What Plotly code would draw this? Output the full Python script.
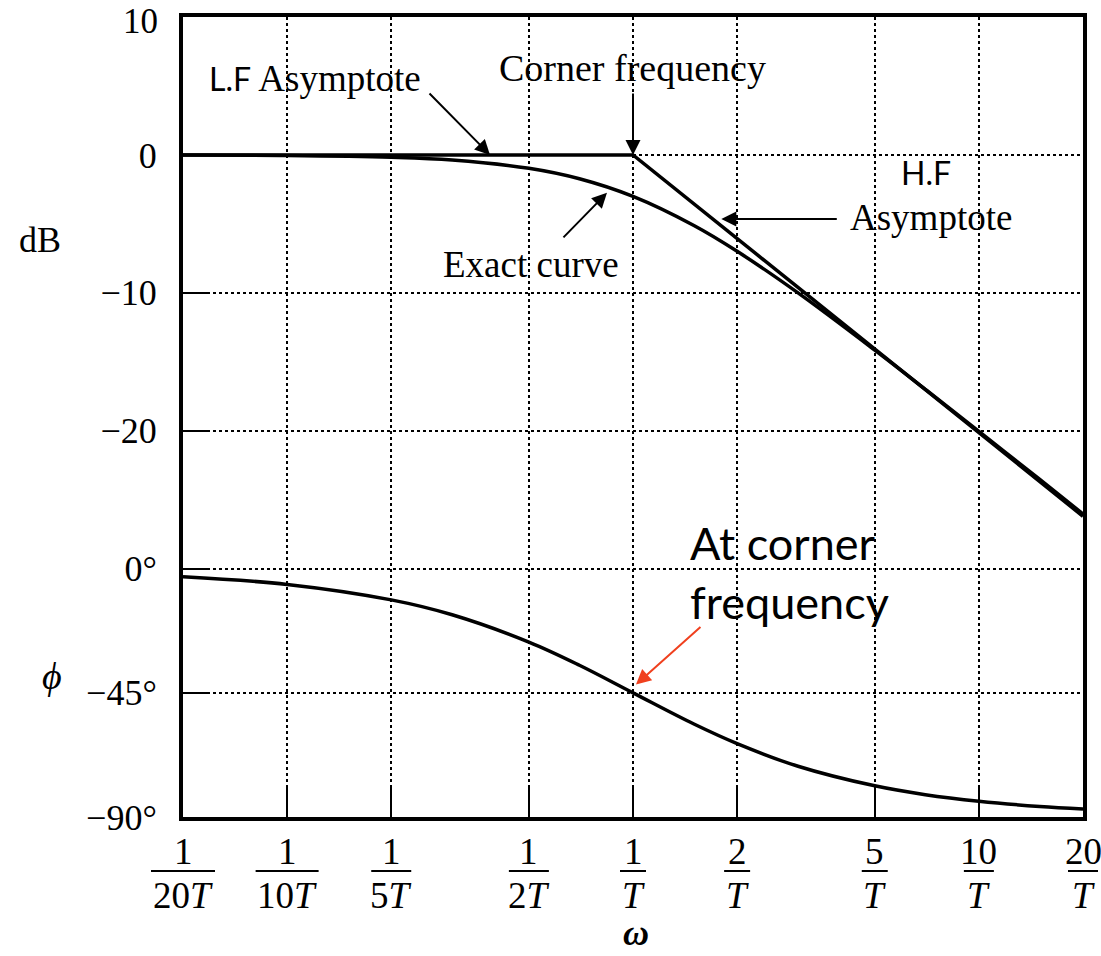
import math
import plotly.graph_objects as go

# ---------------- data ----------------
omega = [0.05, 0.1, 0.2, 0.3, 0.5, 0.7, 1.0, 1.5, 2.0, 3.0, 5.0, 7.0, 10.0, 15.0, 20.0]
exact_db = [-0.01, -0.04, -0.17, -0.37, -0.97, -1.73, -3.01, -5.12, -6.99, -10.0,
            -14.15, -16.99, -20.04, -23.53, -26.03]
phase_deg = [-2.9, -5.7, -11.3, -16.7, -26.6, -35.0, -45.0, -56.3, -63.4, -71.6,
             -78.7, -81.9, -84.3, -86.2, -87.1]
asym_omega = [0.05, 1.0, 20.0]
asym_db = [0.0, 0.0, -26.2]

tick_omega = [0.05, 0.1, 0.2, 0.5, 1, 2, 5, 10, 20]
tick_num = ["1", "1", "1", "1", "1", "2", "5", "10", "20"]
tick_den = ["20<i>T</i>", "10<i>T</i>", "5<i>T</i>", "2<i>T</i>", "<i>T</i>",
            "<i>T</i>", "<i>T</i>", "<i>T</i>", "<i>T</i>"]
tick_den_width = [64, 63, 40, 40, 26, 26, 26, 30, 30]  # fraction bar widths, px

db_ticks = [10, 0, -10, -20]
db_labels = ["10", "0", "\u221210", "\u221220"]
phase_ticks = [0, -45, -90]
phase_labels = ["0\u00b0", "\u221245\u00b0", "\u221290\u00b0"]

# phase drawn on the same vertical scale: 0 deg -> -30, -90 deg -> -48
PH_OFF = -30.0
PH_SCALE = 1.0 / 5.0
def ph(v):
    return PH_OFF + v * PH_SCALE

SERIF = "Liberation Serif"
SANS = "Lato"

fig = go.Figure()
fig.add_trace(go.Scatter(x=asym_omega, y=asym_db, mode="lines",
                         line=dict(color="black", width=3.5), hoverinfo="skip"))
fig.add_trace(go.Scatter(x=omega, y=exact_db, mode="lines",
                         line=dict(color="black", width=3.5, shape="spline"), hoverinfo="skip"))
fig.add_trace(go.Scatter(x=omega, y=[ph(p) for p in phase_deg], mode="lines",
                         line=dict(color="black", width=3.5, shape="spline"), hoverinfo="skip"))

XMIN, XMAX = 0.05, 20.0
LMIN, LMAX = math.log10(XMIN), math.log10(XMAX)
PLOT_W, PLOT_H = 900, 800
YMIN, YMAX = -48, 10

ytickvals = db_ticks + [ph(p) for p in phase_ticks]
# the top label (at the frame edge) is drawn as an annotation below
yticktext = [""] + db_labels[1:] + phase_labels

fig.update_layout(
    width=1101, height=956,
    margin=dict(l=183, r=18, t=17, b=139),
    paper_bgcolor="white", plot_bgcolor="white",
    showlegend=False,
    xaxis=dict(type="log", range=[LMIN, LMAX], tickvals=tick_omega,
               showticklabels=False, ticks="inside", ticklen=30, tickwidth=2,
               tickcolor="black", showgrid=True, gridcolor="black", gridwidth=2,
               griddash="dot", showline=True, linewidth=4, linecolor="black",
               mirror=True, zeroline=False),
    yaxis=dict(range=[YMIN, YMAX], tickvals=ytickvals, ticktext=yticktext,
               ticks="inside", ticklen=27, tickwidth=2, tickcolor="black",
               tickfont=dict(family=SERIF, size=36, color="black"),
               ticklabelstandoff=15,
               showgrid=True, gridcolor="black", gridwidth=2, griddash="dot",
               showline=True, linewidth=4, linecolor="black", mirror=True,
               zeroline=False),
)

ann = []
shapes = []

def px_to_paper(px, py):
    return (px - 183) / PLOT_W, (817 - py) / PLOT_H

# top y tick label
ann.append(dict(x=0, xref="paper", y=px_to_paper(0, 0)[1], yref="paper", text=db_labels[0],
                showarrow=False, xanchor="right", yanchor="top", xshift=-23,
                font=dict(family=SERIF, size=35, color="black")))

# x tick fractions
for v, n, d, w in zip(tick_omega, tick_num, tick_den, tick_den_width):
    lx = math.log10(v)
    xp = (lx - LMIN) / (LMAX - LMIN)
    ann.append(dict(x=lx, xref="x", y=px_to_paper(0, 851)[1], yref="paper",
                    text=n, showarrow=False, xanchor="center", yanchor="middle",
                    font=dict(family=SERIF, size=37, color="black")))
    ann.append(dict(x=lx, xref="x", y=px_to_paper(0, 896)[1], yref="paper",
                    text=d, showarrow=False, xanchor="center", yanchor="middle",
                    font=dict(family=SERIF, size=37, color="black")))
    yb = px_to_paper(0, 871)[1]
    shapes.append(dict(type="line", xref="paper", yref="paper",
                       x0=xp - w / 2 / PLOT_W, x1=xp + w / 2 / PLOT_W, y0=yb, y1=yb,
                       line=dict(color="black", width=2)))

def text_ann(px, py, text, family=SERIF, size=36, xanchor="center", align="center",
             yanchor="middle"):
    x, y = px_to_paper(px, py)
    ann.append(dict(x=x, y=y, xref="paper", yref="paper", text=text, showarrow=False,
                    xanchor=xanchor, yanchor=yanchor, align=align,
                    font=dict(family=family, size=size, color="black")))

text_ann(636, 955, "<i><b>\u03c9</b></i>", size=36, yanchor="bottom")
text_ann(40, 240, "dB", size=36)
text_ann(52, 676, "<i>\u03d5</i>", size=38)

text_ann(315, 78, '<span style="font-family:%s;font-size:32px">L.F</span> Asymptote' % SANS, size=37)
text_ann(632, 68, "Corner frequency", size=38)
text_ann(531, 264, "Exact curve", size=37)
text_ann(926, 173, "H.F", family=SANS, size=32)
text_ann(931, 218, "Asymptote", size=37)
text_ann(688, 572, "At corner<br>frequency", family=SANS, size=45, xanchor="left", align="left")

def arrow(xd, yd, ax, ay, color="black", width=2):
    ann.append(dict(x=math.log10(xd), y=yd, xref="x", yref="y", ax=ax, ay=ay,
                    text="", showarrow=True, arrowhead=2, arrowsize=1.5,
                    arrowwidth=width, arrowcolor=color))

arrow(0.386, 0.0, -62, -63)
arrow(1.0, 0.0, 0, -63)
arrow(0.841, -2.75, -45, 46)
arrow(1.80, -4.64, 117, 0)
arrow(1.02, -38.4, 66, -59, color="#f0401e", width=2)

fig.update_layout(annotations=ann, shapes=shapes)
fig.write_html("out.html")
